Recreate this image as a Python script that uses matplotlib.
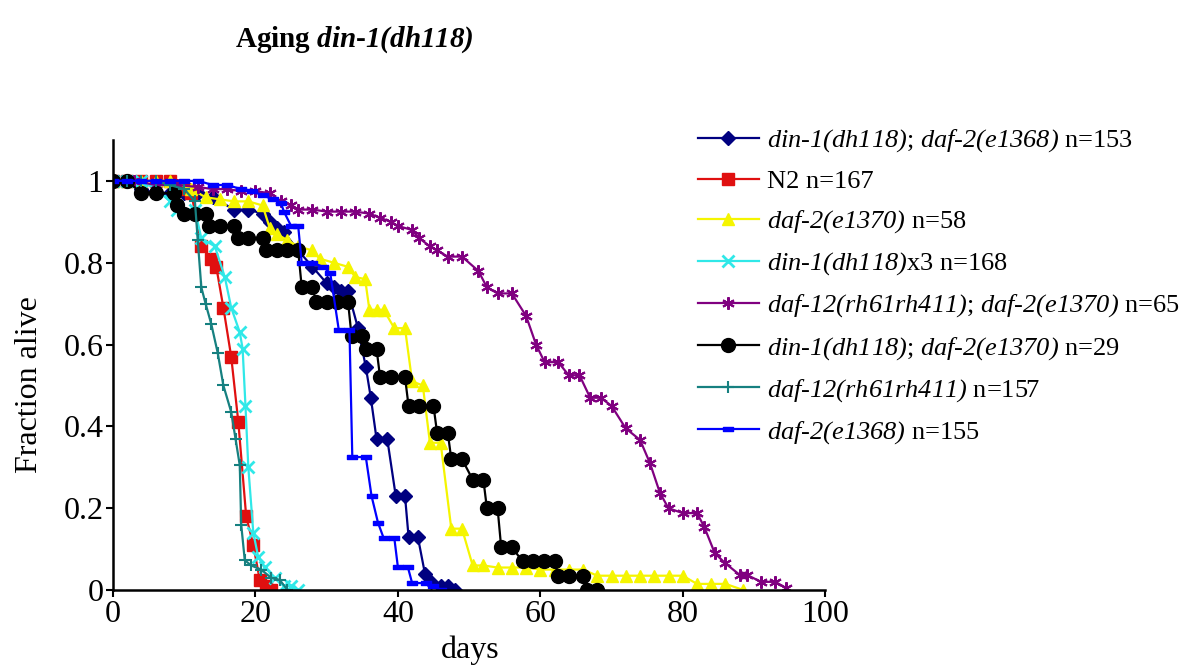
''' survival curves for din-1(dh118) aging assay '''
import matplotlib
matplotlib.use('Agg')
import matplotlib.pyplot as plt
from matplotlib.path import Path

plt.rcParams['font.family'] = ['Liberation Serif', 'DejaVu Serif']
plt.rcParams['mathtext.fontset'] = 'custom'
# gene names are fully italic, digits and brackets included
plt.rcParams['mathtext.rm'] = 'Liberation Serif:italic'
plt.rcParams['mathtext.it'] = 'Liberation Serif:italic'
plt.rcParams['mathtext.bf'] = 'Liberation Serif:italic:bold'
plt.rcParams['mathtext.bfit'] = 'Liberation Serif:italic:bold'

# din-1(dh118); daf-2(e1368)
din1_e1368_days = [0, 2, 4, 6, 8, 10, 12, 14, 17, 19, 21, 22, 23, 24, 26, 28, 30, 31, 32, 33,
                   34.4, 35.5, 36.2, 37, 38.5, 39.7, 41, 41.5, 42.8, 43.8, 44.7, 46, 47, 48]
din1_e1368_frac = [1.0, 1.0, 0.98, 0.97, 0.97, 0.97, 0.97, 0.96, 0.93, 0.93, 0.92, 0.90, 0.885, 0.875,
                   0.83, 0.79, 0.75, 0.74, 0.73, 0.73, 0.64, 0.545, 0.47, 0.37, 0.37, 0.23, 0.23,
                   0.13, 0.13, 0.04, 0.02, 0.01, 0.01, 0.0]
# N2
n2_days = [0, 2, 4, 6, 8, 10, 11, 12.4, 13.8, 14.5, 15.5, 16.6, 17.6, 18.7, 19.7, 20.6, 21.5, 22.2]
n2_frac = [1.0, 1.0, 1.0, 1.0, 1.0, 0.98, 0.97, 0.84, 0.81, 0.79, 0.69, 0.57, 0.41, 0.18, 0.11,
           0.025, 0.01, 0.0]
# daf-2(e1370)
e1370_days = [0, 2, 4, 6, 8, 11, 13, 15, 17, 19, 21, 22, 23, 24.5, 26, 28, 29, 31, 33, 34, 35.4,
              36, 37, 38, 39.5, 41, 42, 43.5, 44.5, 46, 47.5, 49, 50.5, 52, 54, 56, 58, 60, 62,
              64, 66, 68, 70, 72, 74, 76, 78, 80, 82, 84, 86, 88.5]
e1370_frac = [1.0, 1.0, 1.0, 1.0, 1.0, 0.98, 0.96, 0.955, 0.95, 0.95, 0.94, 0.885, 0.87, 0.855,
              0.84, 0.83, 0.81, 0.80, 0.79, 0.765, 0.76, 0.685, 0.685, 0.685, 0.64, 0.64, 0.51,
              0.50, 0.36, 0.36, 0.15, 0.15, 0.06, 0.06, 0.055, 0.055, 0.055, 0.05, 0.05, 0.05,
              0.05, 0.035, 0.035, 0.035, 0.035, 0.035, 0.035, 0.035, 0.015, 0.015, 0.015, 0.0]
# din-1(dh118)x3
din1_days = [0, 2, 4, 6, 8, 9, 11.5, 12.4, 14.3, 15.7, 16.6, 17.8, 18.2, 18.6, 19, 19.7, 20.4,
             21.3, 22.7, 24, 25, 26]
din1_frac = [1.0, 1.0, 1.0, 0.98, 0.95, 0.93, 0.93, 0.86, 0.84, 0.765, 0.69, 0.63, 0.59, 0.45,
             0.30, 0.14, 0.08, 0.056, 0.03, 0.01, 0.01, 0.0]
# daf-12(rh61rh411); daf-2(e1370)
daf12_e1370_days = [0, 3, 6, 9, 12, 14, 16, 18, 20, 22, 23.6, 25, 26, 28, 30, 32, 34, 36, 37.5,
                    39, 40, 42, 43, 44.5, 45.5, 47, 49, 51.3, 52.5, 54, 56, 58, 59.4, 60.6, 62.5,
                    64, 65.5, 67, 68.5, 70, 72, 74, 75.4, 76.8, 78, 80, 82, 83, 84.5, 86, 88, 89,
                    91, 93, 94.5]
daf12_e1370_frac = [1.0, 1.0, 0.99, 0.99, 0.985, 0.98, 0.98, 0.975, 0.975, 0.97, 0.95, 0.94,
                    0.93, 0.93, 0.925, 0.925, 0.925, 0.92, 0.91, 0.90, 0.89, 0.88, 0.86, 0.84,
                    0.83, 0.815, 0.815, 0.78, 0.74, 0.725, 0.725, 0.67, 0.60, 0.557, 0.557, 0.525,
                    0.525, 0.47, 0.47, 0.45, 0.395, 0.367, 0.31, 0.237, 0.2, 0.188, 0.188, 0.155,
                    0.09, 0.065, 0.037, 0.037, 0.02, 0.02, 0.005]
# din-1(dh118); daf-2(e1370)
din1_e1370_days = [0, 2, 4, 6, 8.5, 9, 10, 11.5, 13, 13.5, 15, 17, 17.5, 19, 21, 21.5, 23, 24.5,
                   26, 26.5, 28, 28.5, 30, 31.5, 33, 33.5, 35, 35.5, 37, 37.5, 39, 41, 41.5, 43,
                   45, 45.5, 47, 47.5, 49, 50.5, 52, 52.5, 54, 54.5, 56, 57.5, 59, 60.5, 62, 62.5,
                   64, 66, 66.5, 68]
din1_e1370_frac = [1.0, 1.0, 0.97, 0.97, 0.97, 0.94, 0.92, 0.92, 0.92, 0.89, 0.89, 0.89, 0.86,
                   0.86, 0.86, 0.83, 0.83, 0.83, 0.83, 0.74, 0.74, 0.705, 0.705, 0.705, 0.705,
                   0.62, 0.62, 0.59, 0.59, 0.52, 0.52, 0.52, 0.45, 0.45, 0.45, 0.385, 0.385, 0.32,
                   0.32, 0.27, 0.27, 0.2, 0.2, 0.105, 0.105, 0.07, 0.07, 0.07, 0.07, 0.035,
                   0.035, 0.035, 0.0, 0.0]
# daf-12(rh61rh411)
daf12_days = [0, 2, 4, 6, 8, 10, 11.5, 11.9, 12.4, 13, 13.8, 14.7, 15.5, 16.6, 17.2, 17.8, 18,
              18.5, 19.4, 20.8, 22.2, 23.4, 24.5]
daf12_frac = [1.0, 1.0, 1.0, 1.0, 0.99, 0.98, 0.95, 0.855, 0.74, 0.70, 0.65, 0.58, 0.50, 0.435,
              0.37, 0.305, 0.16, 0.073, 0.06, 0.05, 0.03, 0.025, 0.0]
# daf-2(e1368)
e1368_days = [0, 2, 4, 6, 8, 10, 12, 14, 16, 18, 19.5, 21, 22.5, 23.6, 24, 25, 26, 26.5, 28,
              29.5, 30.5, 31.7, 33.2, 33.6, 35.5, 36.3, 37.2, 38, 39.5, 40, 41.4, 42, 44, 45, 46]
e1368_frac = [1.0, 1.0, 1.0, 1.0, 1.0, 1.0, 1.0, 0.99, 0.99, 0.98, 0.975, 0.965, 0.955, 0.945,
              0.925, 0.89, 0.89, 0.80, 0.80, 0.79, 0.775, 0.636, 0.636, 0.325, 0.325, 0.23, 0.165,
              0.127, 0.127, 0.056, 0.056, 0.017, 0.017, 0.01, 0.0]

labels = [
    r'$din$-$1(dh118)$; $daf$-$2(e1368)$ n=153',
    'N2 n=167',
    r'$daf$-$2(e1370)$ n=58',
    r'$din$-$1(dh118)$x3 n=168',
    r'$daf$-$12(rh61rh411)$; $daf$-$2(e1370)$ n=65',
    r'$din$-$1(dh118)$; $daf$-$2(e1370)$ n=29',
    r'$daf$-$12(rh61rh411)$ n=157',
    r'$daf$-$2(e1368)$ n=155',
]

# flat bar marker used for daf-2(e1368)
bar_marker = Path([(-1, -0.45), (1, -0.45), (1, 0.45), (-1, 0.45), (-1, -0.45)],
                  [Path.MOVETO, Path.LINETO, Path.LINETO, Path.LINETO, Path.CLOSEPOLY])

series = [
    (din1_e1368_days, din1_e1368_frac, '#000080', 'D', 7, 1),
    (n2_days, n2_frac, '#e01010', 's', 8, 1),
    (e1370_days, e1370_frac, '#f5f500', '^', 9, 1),
    (din1_days, din1_frac, '#30e8e8', 'x', 8, 2),
    (daf12_e1370_days, daf12_e1370_frac, '#800080', (6, 2, 0), 9, 1.5),
    (din1_e1370_days, din1_e1370_frac, 'black', 'o', 10, 1),
    (daf12_days, daf12_frac, '#168080', '+', 9, 1.5),
    (e1368_days, e1368_frac, '#0000ff', bar_marker, 7, 1),
]

fig = plt.figure(figsize=(11.87, 6.67), dpi=100)
ax = fig.add_axes([0.0952, 0.1154, 0.6, 0.6747])

handles = []
for (x, y, col, mk, ms, mew), lab in zip(series, labels):
    h, = ax.plot(x, y, color=col, marker=mk, markersize=ms, markeredgewidth=mew,
                 markeredgecolor=col, markerfacecolor=col, linewidth=1.6, label=lab)
    handles.append(h)

ax.set_xlim(0, 100)
ax.set_ylim(0, 1.1)
ax.set_xticks([0, 20, 40, 60, 80, 100])
ax.set_yticks([0, 0.2, 0.4, 0.6, 0.8, 1])
ax.set_yticklabels(['0', '0.2', '0.4', '0.6', '0.8', '1'])
ax.tick_params(labelsize=23, length=5, width=1.5, pad=2)
for s in ['top', 'right']:
    ax.spines[s].set_visible(False)
for s in ['left', 'bottom']:
    ax.spines[s].set_linewidth(1.8)

fig.text(30 / 1187, 1 - 385 / 667, 'Fraction alive', rotation=90, ha='center', va='center',
         fontsize=23)
fig.text(470 / 1187, 1 - 650 / 667, 'days', ha='center', va='center', fontsize=23)
fig.text(354 / 1187, 1 - 40 / 667, r'Aging $\mathbf{din}$-$\mathbf{1(dh118)}$',
         ha='center', va='center', fontsize=21, fontweight='bold')

fig.legend(handles=handles, loc='upper left', bbox_to_anchor=(0.588, 0.809), frameon=False,
           fontsize=19, handlelength=2.3, handletextpad=0.3, labelspacing=0.58,
           borderpad=0, borderaxespad=0)

fig.savefig('out.png', dpi=100)
